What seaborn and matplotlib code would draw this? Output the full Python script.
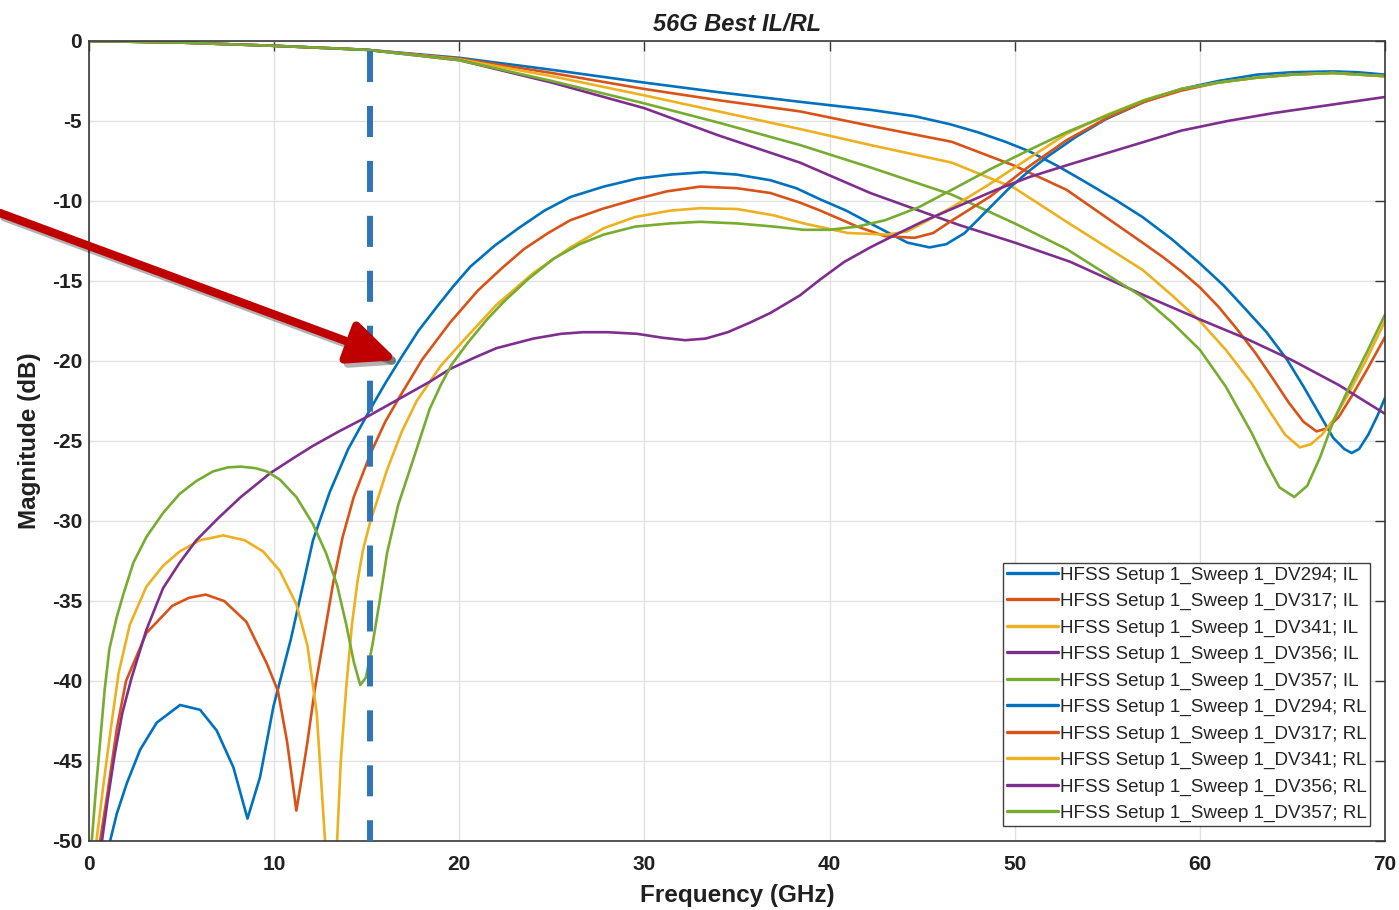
import matplotlib
matplotlib.use("Agg")
import matplotlib.pyplot as plt
import matplotlib.patheffects as pe
import pandas as pd
import seaborn as sns

sns.set_style("whitegrid")
plt.rcParams["font.family"] = ["Liberation Sans", "DejaVu Sans"]
plt.rcParams["axes.unicode_minus"] = False

# ---- data (GHz, dB) ----
il_294_f = [0, 5, 10, 15, 20, 25, 30, 34, 38.4, 42.2, 44.6, 46.5, 48, 49.5, 50.8, 52.3, 53.8, 55.4, 56.9, 58.5, 60, 61.3,
            62.5, 63.6, 64.7, 65.6, 66.5, 67.2, 67.8, 68.2, 68.6, 69.1, 69.6, 70]
il_294_db = [0, -0.1, -0.3, -0.55, -1.05, -1.8, -2.6, -3.2, -3.8, -4.3, -4.7, -5.2, -5.7, -6.3, -6.9, -7.8, -8.8, -9.9,
             -11.0, -12.4, -13.9, -15.3, -16.8, -18.2, -19.9, -21.6, -23.4, -24.8, -25.5, -25.75, -25.5, -24.6, -23.4, -22.3]

il_317_f = [0, 5, 10, 15, 20, 25, 30, 34, 38.4, 42.2, 46.6, 50, 52.8, 56.9, 58, 59, 60, 61, 62, 63, 64, 64.8, 65.6, 66.3,
            66.9, 67.5, 68.2, 69, 70]
il_317_db = [0, -0.1, -0.3, -0.55, -1.1, -2.0, -3.0, -3.7, -4.4, -5.3, -6.3, -7.8, -9.3, -12.6, -13.5, -14.4, -15.4, -16.6,
             -18.0, -19.5, -21.2, -22.6, -23.8, -24.4, -24.2, -23.5, -22.2, -20.6, -18.5]

il_341_f = [0, 5, 10, 15, 20, 25, 30, 34, 38.4, 42.2, 46.6, 50, 52.8, 56.9, 58.5, 60, 61.4, 62.8, 63.8, 64.6, 65.4, 66.0,
            66.6, 67.2, 68, 69, 70]
il_341_db = [0, -0.1, -0.3, -0.55, -1.15, -2.2, -3.4, -4.4, -5.5, -6.5, -7.6, -9.2, -11.3, -14.3, -15.9, -17.5, -19.3,
             -21.4, -23.2, -24.6, -25.4, -25.2, -24.6, -23.7, -22.1, -19.9, -17.5]

il_356_f = [0, 5, 10, 15, 20, 25, 30, 34, 38.4, 42.2, 44.6, 47, 50, 53, 57, 60, 62.5, 64.9, 67.5, 70]
il_356_db = [0, -0.1, -0.3, -0.55, -1.2, -2.6, -4.2, -5.9, -7.6, -9.5, -10.5, -11.5, -12.6, -13.8, -15.9, -17.4, -18.6,
             -19.9, -21.5, -23.3]

il_357_f = [0, 5, 10, 15, 20, 25, 30, 34, 38.4, 42.2, 46.6, 50, 52.8, 56.9, 58.5, 60, 61.4, 62.8, 63.6, 64.3, 65.1, 65.8,
            66.5, 67.2, 68, 69, 70]
il_357_db = [0, -0.1, -0.3, -0.55, -1.2, -2.5, -3.9, -5.1, -6.5, -7.9, -9.6, -11.4, -13.0, -16.0, -17.6, -19.3, -21.6,
             -24.5, -26.4, -27.9, -28.5, -27.8, -26.0, -23.8, -21.8, -19.5, -17.1]

rl_294_f = [1.14, 1.5, 2.04, 2.76, 3.66, 4.92, 6.0, 6.9, 7.8, 8.56, 9.24, 9.96, 10.9, 12.1, 13.0, 14.0, 15.2, 16.0, 16.8,
            17.8, 18.8, 19.7, 20.6, 21.9, 23.2, 24.6, 26, 27.8, 29.6, 31.4, 33.2, 35, 36.8, 38.2, 39.5, 40.9, 42.2, 43.2,
            44.2, 45.4, 46.3, 47.3, 48.5, 49.7, 50.8, 51.8, 53.3, 54.9, 57, 59, 61, 63.1, 65, 67.2, 68.5, 70]
rl_294_db = [-50, -48.3, -46.4, -44.3, -42.6, -41.5, -41.8, -43.1, -45.4, -48.6, -46.0, -41.6, -37.4, -31.2, -28.2, -25.5,
             -23.0, -21.4, -19.9, -18.1, -16.6, -15.3, -14.1, -12.8, -11.7, -10.6, -9.75, -9.1, -8.6, -8.35, -8.2, -8.35,
             -8.7, -9.2, -9.9, -10.6, -11.4, -12.0, -12.6, -12.9, -12.7, -12.0, -10.6, -9.2, -8.1, -7.2, -6.0, -4.9, -3.8,
             -3.0, -2.5, -2.1, -1.95, -1.9, -1.95, -2.1]

rl_317_f = [0.6, 1.0, 1.5, 2.0, 3.1, 4.5, 5.4, 6.3, 7.3, 8.5, 9.6, 10.2, 10.7, 11.2, 11.5, 11.8, 12.2, 12.65, 13.2, 13.7,
            14.3, 15.2, 16.0, 16.8, 18.0, 19.5, 21.0, 22.3, 23.5, 24.8, 26, 27.7, 29.5, 31.2, 33, 35, 36.8, 38.4, 39.5,
            40.5, 41.5, 43.0, 44.6, 45.6, 46.5, 47.6, 48.7, 50.7, 52.8, 55, 57, 59, 61, 63, 65, 67.2, 70]
rl_317_db = [-50, -47.0, -43.0, -40.0, -37.0, -35.3, -34.8, -34.6, -35.0, -36.3, -38.9, -40.6, -43.8, -48.1, -46.0, -43.8,
             -40.5, -37.5, -33.8, -31.0, -28.5, -25.8, -23.8, -22.2, -19.9, -17.6, -15.6, -14.2, -13.0, -12.0, -11.2,
             -10.5, -9.9, -9.4, -9.1, -9.2, -9.5, -10.1, -10.6, -11.1, -11.6, -12.2, -12.3, -12.0, -11.3, -10.5, -9.7,
             -7.9, -6.2, -4.8, -3.8, -3.1, -2.6, -2.3, -2.1, -2.0, -2.2]

rl_341_f = [0.4, 0.8, 1.2, 1.6, 2.2, 3.1, 4.0, 4.9, 6.0, 7.25, 8.4, 9.4, 10.3, 11.2, 11.8, 12.3, 12.75, 13.05, 13.4, 13.6,
            13.9, 14.2, 14.5, 14.8, 15.2, 15.6, 16.1, 16.9, 17.7, 19.0, 20.4, 22, 24, 26, 27.8, 29.5, 31.4, 33, 35, 37,
            38.6, 41.0, 43.1, 44.2, 45.0, 46.6, 48.7, 50.8, 52.8, 55, 57, 59, 61, 63, 65, 67.2, 70]
rl_341_db = [-50, -46.3, -42.8, -39.5, -36.5, -34.1, -32.8, -31.9, -31.2, -30.9, -31.2, -31.9, -33.1, -35.2, -37.8, -42.0,
             -50, -56, -50, -45.0, -40.3, -36.5, -33.8, -31.8, -30.0, -28.6, -26.8, -24.4, -22.5, -20.3, -18.5, -16.5,
             -14.5, -12.9, -11.7, -11.0, -10.6, -10.45, -10.5, -10.9, -11.4, -12.0, -12.1, -11.9, -11.4, -10.4, -8.9,
             -7.3, -5.8, -4.6, -3.7, -3.0, -2.6, -2.3, -2.1, -2.0, -2.2]

rl_356_f = [0.7, 1.0, 1.4, 1.8, 2.3, 3.1, 4.0, 4.9, 5.8, 7.0, 8.2, 9.8, 11.0, 12.1, 13.5, 15, 16.7, 18.4, 19.5, 20.8, 22,
            24, 25.5, 26.7, 28, 29.6, 31, 32.2, 33.3, 34.5, 35.7, 36.8, 38.4, 39.5, 40.8, 42.2, 43.4, 45, 47, 49, 50.8,
            53, 55, 57, 59, 61.5, 64, 67, 70]
rl_356_db = [-50, -47.5, -44.5, -42.0, -39.8, -36.8, -34.2, -32.6, -31.2, -29.8, -28.5, -27.0, -26.1, -25.3, -24.4, -23.5,
             -22.4, -21.3, -20.5, -19.8, -19.2, -18.6, -18.3, -18.2, -18.2, -18.3, -18.55, -18.7, -18.6, -18.2, -17.6,
             -17.0, -15.9, -14.9, -13.8, -12.9, -12.2, -11.3, -10.3, -9.3, -8.5, -7.7, -7.0, -6.3, -5.6, -5.0, -4.5,
             -4.0, -3.5]

rl_357_f = [0.15, 0.4, 0.6, 0.85, 1.1, 1.5, 1.85, 2.4, 3.1, 4.0, 4.9, 5.8, 6.7, 7.5, 8.2, 9.0, 9.6, 10.3, 11.2, 12.1, 12.8,
            13.4, 13.9, 14.3, 14.65, 14.95, 15.3, 15.7, 16.1, 16.7, 17.5, 18.4, 19.0, 19.6, 20.5, 21.5, 22.4, 23.7, 25.1,
            26.5, 27.8, 29.5, 31.4, 33, 35, 37, 38.6, 40, 41.5, 43, 44.8, 46.6, 48.7, 50.8, 52.8, 54.9, 57, 59, 61, 63,
            65, 67.2, 70]
rl_357_db = [-50, -46.4, -43.8, -40.5, -38.0, -36.0, -34.6, -32.6, -31.0, -29.5, -28.3, -27.5, -26.9, -26.65, -26.6, -26.7,
             -26.9, -27.4, -28.5, -30.2, -32.0, -34.0, -36.5, -38.8, -40.25, -39.8, -37.8, -35.0, -32.0, -29.0, -26.2,
             -23.0, -21.5, -20.2, -18.8, -17.4, -16.3, -14.9, -13.6, -12.7, -12.1, -11.6, -11.4, -11.3, -11.4, -11.6,
             -11.8, -11.8, -11.6, -11.2, -10.4, -9.3, -8.0, -6.8, -5.7, -4.7, -3.7, -3.0, -2.6, -2.3, -2.1, -2.0, -2.2]

designs = ["DV294", "DV317", "DV341", "DV356", "DV357"]
design_colors = ["#0072BD", "#D95319", "#EDB120", "#7E2F8E", "#77AC30"]
marker_freq = 15.2  # dashed marker line (GHz)

il_traces = [(il_294_f, il_294_db), (il_317_f, il_317_db), (il_341_f, il_341_db),
             (il_356_f, il_356_db), (il_357_f, il_357_db)]
rl_traces = [(rl_294_f, rl_294_db), (rl_317_f, rl_317_db), (rl_341_f, rl_341_db),
             (rl_356_f, rl_356_db), (rl_357_f, rl_357_db)]

rows = []
labels = []
palette = {}
for kind, traces in (("IL", il_traces), ("RL", rl_traces)):
    for dv, col, (f, db) in zip(designs, design_colors, traces):
        lab = f"HFSS Setup 1_Sweep 1_{dv}; {kind}"
        labels.append(lab)
        palette[lab] = col
        for fi, di in zip(f, db):
            rows.append({"freq": fi, "mag": di, "trace": lab})
df = pd.DataFrame(rows)

fig = plt.figure(figsize=(13.99, 9.10), dpi=100)
ax = fig.add_axes([89 / 1399, 1 - 841 / 910, 1296 / 1399, 800 / 910])

sns.lineplot(data=df, x="freq", y="mag", hue="trace", hue_order=labels,
             palette=palette, estimator=None, sort=False, linewidth=1.9, ax=ax)

ax.set_xlim(0, 70)
ax.set_ylim(-50, 0)
ax.set_xticks(range(0, 71, 10))
ax.set_yticks(range(-50, 1, 5))
ax.grid(True, color="#e1e1e1", linewidth=1.0)
for s in ax.spines.values():
    s.set_visible(True)
    s.set_color("#383838")
    s.set_linewidth(1.2)
ax.tick_params(direction="in", length=7, width=1, color="#383838",
               top=True, right=True, labelsize=15, labelcolor="#202020")
ax.tick_params(axis="x", pad=10)
ax.tick_params(axis="y", pad=5)
for t in ax.get_xticklabels() + ax.get_yticklabels():
    t.set_fontweight("bold")

ax.set_xlabel("Frequency (GHz)", fontsize=17.5, fontweight="bold", color="#202020")
ax.set_ylabel("Magnitude (dB)", fontsize=17.5, fontweight="bold", color="#202020")
ax.xaxis.set_label_coords(0.5, -0.054)
ax.yaxis.set_label_coords(-0.037, 0.5)
ax.set_title("56G Best IL/RL", fontsize=17, fontweight="bold", style="italic", pad=7, color="#202020")

handles, labs = ax.get_legend_handles_labels()
for h in handles:
    h.set_linewidth(2.4)
leg = ax.legend(handles, labs, loc="lower right", bbox_to_anchor=(0.9885, 0.019),
                fontsize=13.6, frameon=True, fancybox=False, framealpha=1,
                edgecolor="#404040", borderpad=0.2, labelspacing=0.48,
                handlelength=2.7, handletextpad=0.1, borderaxespad=0)
leg.get_frame().set_linewidth(1.0)
for t in leg.get_texts():
    t.set_color("#262626")

# overlay: dashed marker and red arrow
ax.plot([marker_freq, marker_freq], [-0.65, -50], color="#2E75B6", linewidth=4.3,
        dashes=(5.2, 4.0), solid_capstyle="butt", zorder=5, clip_on=False)
ax.annotate("", xy=(16.65, -19.94), xycoords="data",
            xytext=(0.0, 1 - 213 / 910), textcoords="figure fraction",
            arrowprops=dict(arrowstyle="-|>,head_length=2.9,head_width=1.3",
                            color="#C00000", lw=6, shrinkA=0, shrinkB=0,
                            path_effects=[pe.SimpleLineShadow(offset=(3, -3), alpha=0.3), pe.Normal()]),
            annotation_clip=False, zorder=6)

fig.savefig("out.png", dpi=100)
